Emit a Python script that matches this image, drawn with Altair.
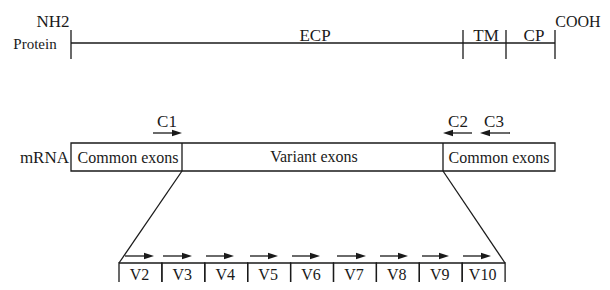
import altair as alt
import pandas as pd

FONT = "Liberation Serif, Times New Roman, serif"
INK = "#1a1a1a"

# ---- diagram data (positions in picture units) ----
# protein bar
protein_line_x = [71, 555]
protein_line_y = 43
protein_ticks_x = [71, 463, 506, 555]
protein_tick_y = [30, 59]

# mRNA bar
mrna_x = [71, 555]
mrna_y = [143, 171]
mrna_dividers_x = [182, 443]

# variant exon boxes
variant_labels = ["V2", "V3", "V4", "V5", "V6", "V7", "V8", "V9", "V10"]
variant_left = 119
variant_width = 42.9
variant_top = 263
variant_bottom = 300

# zoom lines (from mRNA divider to variant block corners)
zoom_x = [(182, 119), (443, 505)]
zoom_y = (171, 263)

# primer arrows: label, start, tip, y
primer_labels = ["C1", "C2", "C3"]
primer_start = [153, 472, 510]
primer_tip = [182, 443, 480]
primer_y = 133
primer_label_x = [167, 458, 494]
primer_label_y = 127

# arrows over variant exons
vex_arrow_start = [125, 163, 206, 250, 292, 337, 380, 422, 463]
vex_arrow_tip = [154, 192, 234, 278, 320, 366, 408, 449, 491]
vex_arrow_y = 256

# text labels: text, x, y(baseline), size, align
label_text = ["NH2", "Protein", "ECP", "TM", "CP", "COOH", "mRNA",
              "Common exons", "Variant exons", "Common exons"]
label_x = [53, 35, 315, 486, 534, 578, 69, 128, 314, 499]
label_y = [27, 49, 41, 41, 41, 27, 163, 163, 162, 163]
label_size = [17, 15, 17, 17, 17, 16, 17, 16, 16, 16]
label_align = ["center", "center", "center", "center", "center", "center",
               "right", "center", "center", "center"]

# ---- build tables ----
segs = []
segs.append(dict(x=protein_line_x[0], x2=protein_line_x[1], y=protein_line_y, y2=protein_line_y))
for tx in protein_ticks_x:
    segs.append(dict(x=tx, x2=tx, y=protein_tick_y[0], y2=protein_tick_y[1]))
for dx in mrna_dividers_x:
    segs.append(dict(x=dx, x2=dx, y=mrna_y[0], y2=mrna_y[1]))
for a, b in zoom_x:
    segs.append(dict(x=a, x2=b, y=zoom_y[0], y2=zoom_y[1]))

heads = []
HEAD = 10
for s, t in zip(primer_start, primer_tip):
    d = 1 if t > s else -1
    segs.append(dict(x=s, x2=t - d * HEAD * 0.6, y=primer_y, y2=primer_y))
    heads.append(dict(x=t - d * HEAD / 2, y=primer_y, dir="r" if d > 0 else "l"))
for s, t in zip(vex_arrow_start, vex_arrow_tip):
    segs.append(dict(x=s, x2=t - HEAD * 0.6, y=vex_arrow_y, y2=vex_arrow_y))
    heads.append(dict(x=t - HEAD / 2, y=vex_arrow_y, dir="r"))
segs_df = pd.DataFrame(segs)
heads_df = pd.DataFrame(heads)

boxes = [dict(x=mrna_x[0], x2=mrna_x[1], y=mrna_y[0], y2=mrna_y[1])]
vlabels = []
for i, lab in enumerate(variant_labels):
    l = variant_left + i * variant_width
    boxes.append(dict(x=l, x2=l + variant_width, y=variant_top, y2=variant_bottom))
    vlabels.append(dict(text=lab, x=l + variant_width / 2 - 1, y=280, size=16, align="center"))
boxes_df = pd.DataFrame(boxes)

texts = [dict(text=t, x=x, y=y, size=s, align=a)
         for t, x, y, s, a in zip(label_text, label_x, label_y, label_size, label_align)]
texts += [dict(text=t, x=x, y=primer_label_y, size=17, align="center")
          for t, x in zip(primer_labels, primer_label_x)]
texts += vlabels
texts_df = pd.DataFrame(texts)

xs = alt.Scale(domain=[8, 602], zero=False, nice=False)
ys = alt.Scale(domain=[8, 282], reverse=True, zero=False, nice=False)

rules = alt.Chart(segs_df).mark_rule(color=INK, strokeWidth=1.3).encode(
    x=alt.X("x:Q", scale=xs, axis=None), x2="x2:Q",
    y=alt.Y("y:Q", scale=ys, axis=None), y2="y2:Q")

rects = alt.Chart(boxes_df).mark_rect(fillOpacity=0, stroke=INK, strokeWidth=1.3).encode(
    x=alt.X("x:Q", scale=xs, axis=None), x2="x2:Q",
    y=alt.Y("y:Q", scale=ys, axis=None), y2="y2:Q")

right_heads = alt.Chart(heads_df[heads_df["dir"] == "r"]).mark_point(
    shape="M-1,-0.65L1,0L-1,0.65Z", filled=True, color=INK, opacity=1, size=HEAD * HEAD).encode(
    x=alt.X("x:Q", scale=xs, axis=None), y=alt.Y("y:Q", scale=ys, axis=None))
left_heads = alt.Chart(heads_df[heads_df["dir"] == "l"]).mark_point(
    shape="M1,-0.65L-1,0L1,0.65Z", filled=True, color=INK, opacity=1, size=HEAD * HEAD).encode(
    x=alt.X("x:Q", scale=xs, axis=None), y=alt.Y("y:Q", scale=ys, axis=None))

def text_layer(df, align):
    return alt.Chart(df).mark_text(font=FONT, color=INK, align=align, baseline="alphabetic").encode(
        x=alt.X("x:Q", scale=xs, axis=None), y=alt.Y("y:Q", scale=ys, axis=None),
        text="text:N", size=alt.Size("size:Q", scale=None, legend=None))

t_center = text_layer(texts_df[texts_df["align"] == "center"], "center")
t_right = text_layer(texts_df[texts_df["align"] == "right"], "right")

chart = alt.layer(rules, rects, right_heads, left_heads, t_center, t_right).properties(
    width=594, height=274, padding=0, autosize=alt.AutoSizeParams(type="none"),
    background="white"
).configure_view(stroke=None)

chart.save("out.html", embed_options={"renderer": "svg", "actions": False})
